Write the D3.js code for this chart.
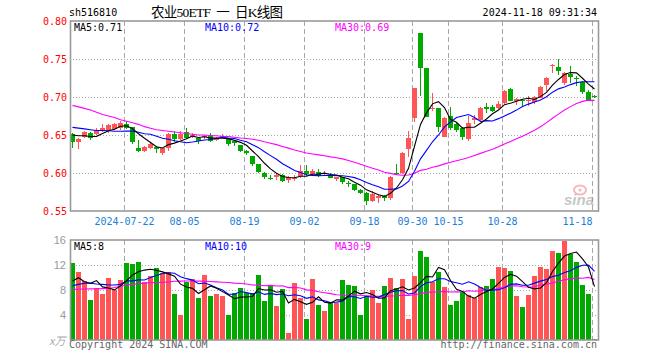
<!DOCTYPE html>
<html><head><meta charset="utf-8">
<script src="https://cdn.jsdelivr.net/npm/d3@7"></script>
<style>body{margin:0;background:#fff}svg{display:block}</style>
</head><body>
<svg id="c" width="660" height="360"></svg>
<script>
const dates = ["2024-07-09","2024-07-10","2024-07-11","2024-07-12","2024-07-15","2024-07-16","2024-07-17","2024-07-18","2024-07-19",
"2024-07-22","2024-07-23","2024-07-24","2024-07-25","2024-07-26","2024-07-29","2024-07-30","2024-07-31","2024-08-01","2024-08-02",
"2024-08-05","2024-08-06","2024-08-07","2024-08-08","2024-08-09","2024-08-12","2024-08-13","2024-08-14","2024-08-15","2024-08-16",
"2024-08-19","2024-08-20","2024-08-21","2024-08-22","2024-08-23","2024-08-26","2024-08-27","2024-08-28","2024-08-29","2024-08-30",
"2024-09-02","2024-09-03","2024-09-04","2024-09-05","2024-09-06","2024-09-09","2024-09-10","2024-09-11","2024-09-12","2024-09-13",
"2024-09-18","2024-09-19","2024-09-20","2024-09-23","2024-09-24","2024-09-25","2024-09-26","2024-09-27",
"2024-09-30","2024-10-08","2024-10-09","2024-10-10","2024-10-11","2024-10-14","2024-10-15","2024-10-16","2024-10-17","2024-10-18",
"2024-10-21","2024-10-22","2024-10-23","2024-10-24","2024-10-25","2024-10-28","2024-10-29","2024-10-30","2024-10-31","2024-11-01",
"2024-11-04","2024-11-05","2024-11-06","2024-11-07","2024-11-08","2024-11-11","2024-11-12","2024-11-13","2024-11-14","2024-11-15",
"2024-11-18"];
const open = [.651,.6404,.6478,.6532,.651,.6553,.656,.6575,.659,.665,
.6605,.6334,.629,.6334,.6347,.6268,.6334,.651,.6447,.6536,
.647,.6457,.647,.6505,.6434,.6472,.6447,.6426,.6368,.6285,
.622,.6118,.6004,.594,.5944,.5979,.5908,.5917,.5961,.6026,
.5983,.6013,.5983,.5961,.5922,.5943,.5874,.5851,.578,.5743,
.5633,.5665,.57,.5674,.5996,.5996,.6316,.6724,.7838,.7378,
.6836,.6852,.648,.6755,.6645,.6592,.6444,.6697,.6697,.6868,
.6865,.6851,.6926,.7105,.6947,.6966,.6947,.6934,.6992,.7158,
.7408,.7395,.718,.7308,.725,.7203,.7071,.7018];
const high = [.653,.6455,.6553,.654,.6588,.664,.665,.666,.668,.668,
.661,.643,.6355,.64,.636,.633,.652,.6553,.6558,.6588,
.652,.647,.6505,.652,.648,.6513,.646,.643,.637,.6308,
.623,.612,.601,.5974,.60,.599,.596,.598,.61,.6105,
.6057,.6048,.602,.600,.5945,.595,.590,.586,.579,.575,
.5763,.571,.5715,.596,.6125,.627,.6555,.7114,.7838,.7378,
.7049,.686,.6742,.6865,.666,.660,.6755,.6763,.6862,.6917,
.689,.6947,.709,.7124,.6993,.698,.7018,.701,.714,.7265,
.7435,.7505,.7325,.7408,.7279,.721,.7092,.702];
const low = [.633,.632,.646,.644,.650,.654,.653,.656,.657,.658,
.6378,.6276,.6276,.632,.6268,.6237,.629,.6413,.643,.645,
.646,.6382,.645,.6404,.642,.646,.636,.6355,.6272,.6237,
.6097,.5996,.5921,.5905,.591,.5887,.5865,.5895,.5935,.596,
.597,.595,.597,.593,.589,.5851,.582,.576,.572,.5575,
.562,.5609,.5633,.5651,.597,.599,.6206,.6667,.7018,.6742,
.6815,.6535,.647,.6565,.6535,.6434,.6421,.6645,.668,.6795,
.6797,.684,.6905,.6947,.689,.6864,.6887,.6903,.6985,.7079,
.7315,.729,.716,.7189,.7145,.7036,.6943,.699];
const close = [.641,.6443,.6536,.6457,.6566,.6592,.6628,.664,.6655,.659,
.6408,.629,.6342,.6378,.6312,.6325,.6509,.6443,.6513,.6457,
.6505,.6417,.6492,.6426,.6457,.6492,.6382,.639,.6295,.6263,
.6118,.6018,.5948,.5926,.5979,.59,.5952,.593,.6026,.5983,
.6026,.596,.5996,.594,.5943,.5878,.5861,.5776,.5743,.5633,
.572,.57,.5665,.5947,.5983,.6259,.6457,.7114,.7382,.6742,
.6855,.66,.6724,.6592,.6566,.647,.6654,.6728,.6851,.6848,
.6816,.6904,.7079,.6947,.6979,.6947,.6966,.70,.7132,.7255,
.7425,.7342,.7321,.7263,.7237,.7071,.696,.6995];
const volume = [12.37,10.93,9.44,6.4,8.37,7.36,9.97,8.0,9.6,12.37,
12.1,12.53,9.33,10.29,11.57,10.77,10.93,7.41,4.0,9.23,
9.76,6.77,10.4,7.09,7.36,7.09,4.0,7.47,8.37,7.47,
7.47,10.4,6.24,8.64,5.44,8.16,1.17,9.07,6.77,3.36,
9.76,5.6,4.64,6.13,5.97,9.6,8.8,8.59,4.0,6.99,
8.0,5.92,8.64,9.92,8.37,9.76,3.36,10.24,14.24,13.28,
9.33,10.93,8.48,5.6,6.24,7.63,7.2,6.77,8.53,8.64,
9.71,11.73,11.47,11.04,7.09,5.33,7.2,10.24,11.73,11.31,
14.29,13.92,15.89,13.76,12.53,8.8,7.41,0.16];
// moving-average values before enough in-window history exists
const ma5Head = [.650,.649,.649,.648];
const ma10Head = [.660,.659,.658,.657,.656,.656,.6555,.655,.655];
const ma30Head = [.689,.687,.685,.683,.680,.677,.675,.673,.670,.668,.666,.664,.661,.659,.657,.656,.655,.654,.653,.652,.651,.650,.650,.649,.649,.648,.648,.647,.646];
const vma5Head = [9.44,9.97,9.33,9.07];
const vma10Head = [8.69,8.9,9.07,9.07,8.96,8.9,8.8,8.8,8.9];
const vma30Head = [8.1,8.12,8.15,8.18,8.2,8.22,8.25,8.4,8.6,8.8,8.9,9.0,9.1,9.15,9.2,9.25,9.3,9.4,9.42,9.44,9.44,9.42,9.4,9.35,9.3,9.25,9.2,9.1,9.05];
const priceTicks = [0.55,0.60,0.65,0.70,0.75,0.80];
const volTicks = [4,8,12,16];
const dateTicks = ["2024-07-22","2024-08-05","2024-08-19","2024-09-02","2024-09-18","2024-09-30","2024-10-15","2024-10-28","2024-11-18"];
const dateTickLabels = ["2024-07-22","08-05","08-19","09-02","09-18","09-30","10-15","10-28","11-18"];

function movingAvg(vals, n, head){
  return vals.map((v,i)=> i < n-1 ? head[i] : d3.mean(vals.slice(i-n+1, i+1)));
}
const ma5 = movingAvg(close,5,ma5Head), ma10 = movingAvg(close,10,ma10Head), ma30 = movingAvg(close,30,ma30Head);
const vma5 = movingAvg(volume,5,vma5Head), vma10 = movingAvg(volume,10,vma10Head), vma30 = movingAvg(volume,30,vma30Head);

const svg = d3.select("#c");
const L = 70, R = 598, PT = 21, PB = 211, VT = 240, VB = 340;
const RED = "#ff5555", GREEN = "#00a800", GRID = "#a8a8a8";
const mono = "'DejaVu Sans Mono', 'Liberation Mono', monospace";

const x = d3.scaleBand().domain(dates).range([L, R]).paddingInner(1/6).paddingOuter(1/12).align(0);
const y = d3.scaleLinear().domain([0.55, 0.80]).range([PB, PT]);
const vy = d3.scaleLinear().domain([0, 16]).range([VB, VT]);
const cx = d => x(d) + 2.5;

// header
svg.append("text").attr("x",69).attr("y",16).attr("font-family",mono).attr("font-size",10).attr("fill","#000").text("sh516810");
svg.append("text").attr("x",151).attr("y",17).attr("font-family","'Liberation Serif','Noto Sans CJK SC',serif")
  .attr("font-size",13.5).attr("fill","#000").attr("textLength",132).attr("lengthAdjust","spacing").text("农业50ETF\u2002一\u2002日K线图");
svg.append("text").attr("x",597).attr("y",16).attr("text-anchor","end").attr("font-family",mono).attr("font-size",10).attr("fill","#000").text("2024-11-18 09:31:34");

function grids(top, bottom, hvals, yscale){
  const g = svg.append("g").attr("shape-rendering","crispEdges");
  g.selectAll("line.h").data(hvals).join("line")
    .attr("x1",L).attr("x2",R).attr("y1",d=>Math.round(yscale(d))+0.5).attr("y2",d=>Math.round(yscale(d))+0.5)
    .attr("stroke",GRID).attr("stroke-dasharray","1,2");
  g.selectAll("line.v").data(dateTicks).join("line")
    .attr("x1",d=>x(d)+0.5).attr("x2",d=>x(d)+0.5).attr("y1",top).attr("y2",bottom)
    .attr("stroke",GRID).attr("stroke-dasharray","5,3");
}
grids(PT, PB, [0.60,0.65,0.70,0.75], y);
grids(VT, VB, [4,8,12], vy);

// candles
const cg = svg.append("g").attr("shape-rendering","crispEdges");
const idx = d3.range(dates.length);
cg.selectAll("line.w").data(idx).join("line")
  .attr("x1",i=>cx(dates[i])).attr("x2",i=>cx(dates[i]))
  .attr("y1",i=>y(high[i])).attr("y2",i=>y(low[i]))
  .attr("stroke",i=>close[i]>=open[i]?RED:GREEN);
cg.selectAll("rect").data(idx).join("rect")
  .attr("x",i=>x(dates[i])).attr("width",x.bandwidth())
  .attr("y",i=>y(Math.max(open[i],close[i])))
  .attr("height",i=>Math.max(1, Math.abs(y(open[i])-y(close[i]))))
  .attr("fill",i=>close[i]>=open[i]?RED:GREEN);

// volume bars
const vg = svg.append("g").attr("shape-rendering","crispEdges");
vg.selectAll("rect").data(idx).join("rect")
  .attr("x",i=>x(dates[i])).attr("width",x.bandwidth())
  .attr("y",i=>vy(volume[i])).attr("height",i=>vy(0)-vy(volume[i]))
  .attr("fill",i=>close[i]>=open[i]?RED:GREEN);

// MA lines
function maLine(vals, yscale, color){
  const line = d3.line().x((v,i)=>cx(dates[i])).y(v=>yscale(v));
  svg.append("path").attr("d",line(vals)).attr("fill","none").attr("stroke",color).attr("stroke-width",1.1);
}
maLine(ma30, y, "#ff00ff"); maLine(ma10, y, "#0000ff"); maLine(ma5, y, "#000000");
maLine(vma30, vy, "#ff00ff"); maLine(vma10, vy, "#0000ff"); maLine(vma5, vy, "#000000");

// frames
svg.append("rect").attr("x",L+0.5).attr("y",PT).attr("width",R-L).attr("height",PB-PT).attr("fill","none").attr("stroke","#999").attr("stroke-width",1.6);
svg.append("rect").attr("x",L+0.5).attr("y",VT).attr("width",R-L).attr("height",VB-VT).attr("fill","none").attr("stroke","#999").attr("stroke-width",1.6);

// axes
const ya = svg.append("g").attr("transform",`translate(${L},0)`)
  .call(d3.axisLeft(y).tickValues(priceTicks).tickSize(0).tickPadding(3).tickFormat(d3.format(".2f")));
ya.select(".domain").remove();
ya.selectAll("text").attr("fill","#ff0000").attr("font-family",mono).attr("font-size",10);
const va = svg.append("g").attr("transform",`translate(${L},0)`)
  .call(d3.axisLeft(vy).tickValues(volTicks).tickSize(0).tickPadding(4).tickFormat(d3.format("d")));
va.select(".domain").remove();
va.selectAll("text").attr("fill","#999").attr("font-family","'Liberation Sans',Arial,sans-serif").attr("font-size",11);
svg.append("text").attr("x",49).attr("y",345).attr("font-family","'Noto Sans CJK SC',sans-serif").attr("font-size",11).attr("font-style","italic").attr("fill","#aaa").text("x万");

// date labels
svg.selectAll("text.dl").data(dateTicks).join("text").attr("class","dl")
  .attr("x",d=>x(d)+0.5).attr("y",225)
  .attr("text-anchor",(d,i)=> i===dateTicks.length-1 ? "end" : "middle")
  .attr("font-family",mono).attr("font-size",10).attr("fill","#1a80d8")
  .text((d,i)=>dateTickLabels[i]);

// MA labels
const trunc2 = v => (Math.floor(v*100+1e-9)/100).toFixed(2);
const last = a => a[a.length-1];
function maLabels(yy, vals, fmt){
  const cols = ["#000","#0000ff","#ff00ff"], names = ["MA5:","MA10:","MA30:"], xs = [74,205,335];
  vals.forEach((v,k)=> svg.append("text").attr("x",xs[k]).attr("y",yy).attr("font-family",mono).attr("font-size",10).attr("fill",cols[k]).text(names[k]+fmt(v)));
}
maLabels(31, [last(ma5),last(ma10),last(ma30)], trunc2);
maLabels(250, [last(vma5),last(vma10),last(vma30)], v=>String(Math.floor(v)));

// footer
svg.append("text").attr("x",69).attr("y",348).attr("font-family",mono).attr("font-size",10).attr("fill","#666").text("Copyright 2024 SINA.COM");
svg.append("text").attr("x",597).attr("y",348).attr("text-anchor","end").attr("font-family",mono).attr("font-size",10).attr("fill","#666").text("http://finance.sina.com.cn");

// sina watermark
const wm = svg.append("g").attr("opacity",0.55);
wm.append("ellipse").attr("cx",580).attr("cy",190).attr("rx",6).attr("ry",4.5).attr("fill","none").attr("stroke","#f08080").attr("stroke-width",2);
wm.append("circle").attr("cx",580).attr("cy",190).attr("r",1.6).attr("fill","#f08080");
wm.append("text").attr("x",564).attr("y",205).attr("font-family","'Liberation Sans',Arial,sans-serif").attr("font-weight","bold").attr("font-style","italic").attr("font-size",15).attr("fill","#999").text("sina");
</script>
</body></html>
